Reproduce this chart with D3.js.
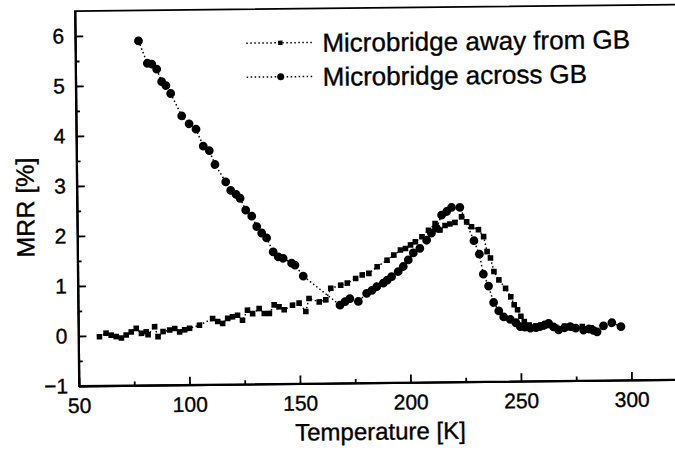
<!DOCTYPE html>
<meta charset='utf-8'>
<style>
    body { margin: 0; background: #fff; }
    svg { display: block; font-family: 'Liberation Sans', Arial, sans-serif; }
    .axis path, .axis line { stroke: #000; stroke-width: 1.8; fill: none; }
    .axis text { font-size: 21px; fill: #000; stroke: #000; stroke-width: 0.35; }
    .title { fill: #000; stroke: #000; stroke-width: 0.35; }
</style>
<body>
<script src='https://d3js.org/d3.v7.min.js'></script>
<script>
    // Microbridge away from GB (small squares)
    const awayT = [59.5, 62.5, 64.8, 67.1, 69.4, 71.6, 73.9, 76.2, 78.5, 80.7, 81.5, 84.5, 86, 88.3, 91.3, 93.6, 95.8, 98.1, 100.3, 104.8,
        110.8, 113.1, 115.3, 117.6, 119.8, 122.1, 124.3, 126.6, 128.9, 131.9, 134.2, 136.5, 138.7, 140.9, 143.2, 147.0, 150.0, 153.0, 154.5,
        159.1, 162.1, 164.4, 168.9, 171.9, 175.7, 178.7, 181.7, 185.5, 190.0, 193.1, 196.1, 198.4, 200.7, 202.9, 205.9, 208.9, 211.9, 214.1,
        216.4, 218.6, 220.9, 223.9, 226.2, 228.4, 231.5, 233.8, 235.3, 236.8, 238.3, 240.5, 243.5, 245.8, 247.3, 248.8, 250.3, 251.8, 254,
        257, 260, 263, 266, 270, 274, 278, 282];
    const awayV = [-0.02, 0.05, 0.01, -0.02, -0.05, 0.01, 0.07, 0.14, 0.04, 0.07, 0.01, 0.17, -0.03, 0.07, 0.10, 0.13, 0.06, 0.10, 0.13, 0.19,
        0.32, 0.26, 0.22, 0.32, 0.35, 0.38, 0.28, 0.48, 0.41, 0.51, 0.41, 0.41, 0.58, 0.54, 0.48, 0.57, 0.61, 0.44, 0.70,
        0.63, 0.67, 0.90, 0.96, 1.00, 1.09, 1.16, 1.19, 1.32, 1.45, 1.55, 1.65, 1.68, 1.75, 1.81, 1.91, 2.04, 2.17, 2.04,
        2.13, 2.16, 2.19, 2.30, 2.20, 2.10, 2.04, 1.90, 1.60, 1.47, 1.20, 1.03, 0.86, 0.69, 0.53, 0.43, 0.30, 0.19, 0.12,
        0.10, 0.08, 0.11, 0.07, 0.09, 0.06, 0.08, 0.05];

    // Microbridge across GB (circles)
    const acrossT = [78.6, 82.5, 84.5, 86.7, 88.9, 90.8, 92.9, 97.8, 101.1, 104.2, 107.4, 110.1, 112.6, 117.4, 119.6, 122.0, 123.8, 126.3,
        129.0, 131.2, 133.4, 135.6, 138.5, 140.8, 143.0, 146.8, 148.3, 152.0,
        168.5, 170.8, 173.0, 176.8, 180.6, 183, 185.2, 188.2, 190, 192.0, 195.0, 197.3, 199.6, 201.9, 204.9, 208.0, 210.2, 212.5, 214.9,
        217.2, 219.4, 223.2,
        229.4, 231.8, 233.5, 235.8, 238.0, 240.3, 242.5, 245.5, 248, 250.0, 252, 254.5, 257, 259.0, 261, 262.8, 265, 267.3, 270, 272.6,
        275, 278.6, 281, 283, 284.7, 287.6, 291.4, 295.5];
    const acrossV = [5.89, 5.44, 5.42, 5.32, 5.07, 4.99, 4.83, 4.38, 4.22, 4.11, 3.77, 3.68, 3.40, 3.05, 2.88, 2.80, 2.72, 2.48,
        2.36, 2.15, 2.02, 1.92, 1.64, 1.54, 1.51, 1.41, 1.37, 1.15,
        0.56, 0.63, 0.69, 0.63, 0.79, 0.85, 0.92, 0.99, 1.05, 1.12, 1.22, 1.32, 1.45, 1.59, 1.68, 1.84, 1.98, 2.08, 2.34,
        2.41, 2.49, 2.49,
        1.82, 1.55, 1.15, 0.91, 0.58, 0.41, 0.29, 0.24, 0.17, 0.09, 0.08, 0.06, 0.07, 0.09, 0.12, 0.15, 0.08, 0.02, 0.06, 0.08,
        0.05, 0.01, 0.03, 0.00, -0.03, 0.09, 0.15, 0.07];

    const xMajor = [50, 100, 150, 200, 250, 300];
    const xMinor = [75, 125, 175, 225, 275];
    const yMajor = [-1, 0, 1, 2, 3, 4, 5, 6];
    const yMinor = [-0.5, 0.5, 1.5, 2.5, 3.5, 4.5, 5.5];
    const seriesNames = ['Microbridge away from GB', 'Microbridge across GB'];

    const W = 675, H = 453;
    const x0 = 79, yBottom = 386;

    const svg = d3.select('body').append('svg')
        .attr('width', W)
        .attr('height', H);

    // the scanned figure is tilted a little
    const g = svg.append('g')
        .attr('transform', `rotate(-0.62, ${x0}, ${yBottom})`);

    const x = d3.scaleLinear()
        .domain([50, 340])
        .range([x0, x0 + 290 * 2.21]);
    const y = d3.scaleLinear()
        .domain([-1, 6.5])
        .range([yBottom, 11]);

    // frame (right side runs off the page)
    g.append('rect')
        .attr('x', x(50))
        .attr('y', y(6.5))
        .attr('width', x(340) - x(50))
        .attr('height', y(-1) - y(6.5))
        .attr('fill', 'none')
        .attr('stroke', '#000')
        .attr('stroke-width', 1.8);

    // axes, ticks pointing inward
    g.append('g')
        .attr('class', 'x axis')
        .attr('transform', `translate(0, ${yBottom})`)
        .call(d3.axisBottom(x).tickValues(xMajor).tickSizeInner(-8).tickSizeOuter(0).tickPadding(12));
    g.append('g')
        .attr('class', 'x axis minor')
        .attr('transform', `translate(0, ${yBottom})`)
        .call(d3.axisBottom(x).tickValues(xMinor).tickSizeInner(-4).tickSizeOuter(0).tickFormat(''));

    g.append('g')
        .attr('class', 'y axis')
        .attr('transform', `translate(${x0}, 0)`)
        .call(d3.axisLeft(y).tickValues(yMajor).tickSizeInner(-8).tickSizeOuter(0).tickPadding(11));
    g.append('g')
        .attr('class', 'y axis minor')
        .attr('transform', `translate(${x0}, 0)`)
        .call(d3.axisLeft(y).tickValues(yMinor).tickSizeInner(-4).tickSizeOuter(0).tickFormat(''));

    // axis titles
    g.append('text')
        .attr('class', 'title')
        .attr('x', 380)
        .attr('y', 443)
        .attr('text-anchor', 'middle')
        .style('font-size', '24px')
        .text('Temperature [K]');
    g.append('text')
        .attr('class', 'title')
        .attr('transform', 'translate(36, 207) rotate(-90)')
        .attr('text-anchor', 'middle')
        .style('font-size', '25px')
        .text('MRR [%]');

    const line = d3.line()
        .x(d => x(d.t))
        .y(d => y(d.v));

    const away = awayT.map((t, i) => ({ t: t, v: awayV[i] }));
    const across = acrossT.map((t, i) => ({ t: t, v: acrossV[i] }));

    const plot = g.append('g').attr('class', 'plot');

    [away, across].forEach(data => {
        plot.append('path')
            .datum(data)
            .attr('fill', 'none')
            .attr('stroke', '#000')
            .attr('stroke-width', 1.5)
            .attr('stroke-dasharray', '1.5,2.5')
            .attr('d', line);
    });

    plot.selectAll('.sq')
        .data(away)
        .enter().append('rect')
            .attr('class', 'sq')
            .attr('x', d => x(d.t) - 2.8)
            .attr('y', d => y(d.v) - 2.8)
            .attr('width', 5.6)
            .attr('height', 5.6)
            .attr('fill', '#000');

    plot.selectAll('.dot')
        .data(across)
        .enter().append('circle')
            .attr('class', 'dot')
            .attr('cx', d => x(d.t))
            .attr('cy', d => y(d.v))
            .attr('r', 4.4)
            .attr('fill', '#000');

    // legend
    const legend = g.selectAll('.legend')
        .data(seriesNames)
        .enter().append('g')
            .attr('class', 'legend')
            .attr('transform', (d, i) => `translate(250, ${45 + i * 34})`);

    legend.append('line')
        .attr('x1', 0)
        .attr('x2', 68)
        .attr('stroke', '#000')
        .attr('stroke-width', 1.5)
        .attr('stroke-dasharray', '1.5,2.5');
    legend.filter((d, i) => i === 0).append('rect')
        .attr('x', 34 - 2.2)
        .attr('y', -2.2)
        .attr('width', 4.4)
        .attr('height', 4.4);
    legend.filter((d, i) => i === 1).append('circle')
        .attr('cx', 34)
        .attr('r', 3.5);
    legend.append('text')
        .attr('class', 'title')
        .attr('x', 76)
        .attr('dy', '0.36em')
        .style('font-size', '26px')
        .text(d => d);
</script>
</body>
